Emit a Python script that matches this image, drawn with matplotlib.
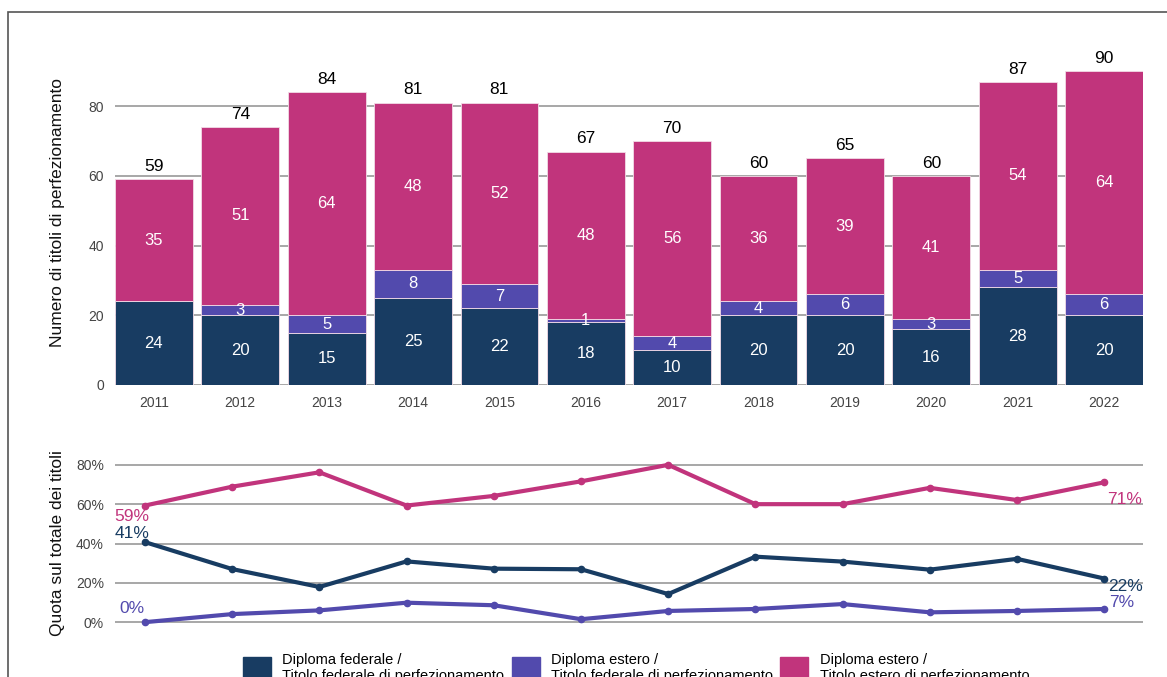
import matplotlib.pyplot as plt
import matplotlib.patches as mpatches
import numpy as np

plt.rcParams['font.family'] = ['Liberation Sans', 'DejaVu Sans']

years = ['2011', '2012', '2013', '2014', '2015', '2016',
         '2017', '2018', '2019', '2020', '2021', '2022']
fed_fed = [24, 20, 15, 25, 22, 18, 10, 20, 20, 16, 28, 20]
est_fed = [0, 3, 5, 8, 7, 1, 4, 4, 6, 3, 5, 6]
est_est = [35, 51, 64, 48, 52, 48, 56, 36, 39, 41, 54, 64]
totals = [59, 74, 84, 81, 81, 67, 70, 60, 65, 60, 87, 90]

# shares of total
share_fed_fed = [0.407, 0.270, 0.179, 0.309, 0.272, 0.269, 0.143, 0.333, 0.308, 0.267, 0.322, 0.222]
share_est_fed = [0.0, 0.041, 0.060, 0.099, 0.086, 0.015, 0.057, 0.067, 0.092, 0.050, 0.057, 0.067]
share_est_est = [0.593, 0.689, 0.762, 0.593, 0.642, 0.716, 0.800, 0.600, 0.600, 0.683, 0.621, 0.711]

labels = ['Diploma federale /\nTitolo federale di perfezionamento',
          'Diploma estero /\nTitolo federale di perfezionamento',
          'Diploma estero /\nTitolo estero di perfezionamento']
c_navy = '#183c62'
c_purple = '#524aad'
c_pink = '#c1347c'
grid_c = '#a0a0a0'
tick_c = '#444444'

W, H = 1167, 677
fig = plt.figure(figsize=(W / 100, H / 100), dpi=100)

# outer frame
fig.add_artist(mpatches.Rectangle((8 / W, -0.1), 1.2, (H - 12) / H + 0.1,
                                  transform=fig.transFigure, fill=False,
                                  edgecolor='#555555', lw=1.2))

# --- top: stacked bars ---
ax = fig.add_axes([115 / W, (H - 385) / H, 1028 / W, 345 / H])
x = np.arange(len(years))
b1 = ax.bar(x, fed_fed, 0.9, color=c_navy, edgecolor='#f2dbe6', lw=0.6, zorder=2)
b2 = ax.bar(x, est_fed, 0.9, bottom=fed_fed, color=c_purple,
            edgecolor='#f2dbe6', lw=0.6, zorder=2)
bottom2 = np.array(fed_fed) + np.array(est_fed)
b3 = ax.bar(x, est_est, 0.9, bottom=bottom2, color=c_pink,
            edgecolor='#f2dbe6', lw=0.6, zorder=2)

for bars, vals in [(b1, fed_fed), (b2, est_fed), (b3, est_est)]:
    for rect, v in zip(bars, vals):
        if v == 0:
            continue
        ax.text(rect.get_x() + rect.get_width() / 2, rect.get_y() + rect.get_height() / 2,
                str(v), ha='center', va='center', color='white', fontsize=12)
for xi, t in zip(x, totals):
    ax.text(xi, t + 1.5, str(t), ha='center', va='bottom', color='black', fontsize=12.5)

ax.set_xlim(-0.45, 11.45)
ax.set_ylim(0, 99)
ax.set_yticks([0, 20, 40, 60, 80])
ax.set_xticks(x)
ax.set_xticklabels(years)
ax.grid(axis='y', color=grid_c, lw=1.3, zorder=0)
ax.tick_params(length=0, labelsize=10, labelcolor=tick_c, pad=8)
for s in ax.spines.values():
    s.set_visible(False)
ax.set_ylabel('Numero di titoli di perfezionamento', fontsize=12.5, color='#111111', labelpad=17)

# --- bottom: shares ---
ax2 = fig.add_axes([115 / W, (H - 632) / H, 1028 / W, 177 / H])
ax2.plot(x, share_est_est, color=c_pink, lw=3, marker='o', ms=4.5, zorder=3)
ax2.plot(x, share_fed_fed, color=c_navy, lw=3, marker='o', ms=4.5, zorder=3)
ax2.plot(x, share_est_fed, color=c_purple, lw=3, marker='o', ms=4.5, zorder=3)
ax2.set_xlim(-0.344, 11.445)
ax2.set_ylim(-0.05, 0.85)
ax2.set_yticks([0, 0.2, 0.4, 0.6, 0.8])
ax2.set_yticklabels(['0%', '20%', '40%', '60%', '80%'])
ax2.set_xticks([])
ax2.grid(axis='y', color=grid_c, lw=1.3, zorder=0)
ax2.tick_params(length=0, labelsize=10, labelcolor=tick_c, pad=8)
for s in ax2.spines.values():
    s.set_visible(False)
ax2.set_ylabel('Quota sul totale dei titoli', fontsize=12.5, color='#111111', labelpad=8)

fs = 12.5
end_labels = [
    (0, share_est_est, c_pink, (-9.5, -8)),
    (0, share_fed_fed, c_navy, (-9.5, 6.5)),
    (0, share_est_fed, c_purple, (-9.5, 10)),
    (11, share_est_est, c_pink, (15, -12)),
    (11, share_fed_fed, c_navy, (15, -6)),
    (11, share_est_fed, c_purple, (12.5, 4.5)),
]
for i, series, col, off in end_labels:
    ax2.annotate(f'{series[i]:.0%}', (i, series[i]), xytext=off, textcoords='offset points',
                 ha='center', va='center', color=col, fontsize=fs)

# legend (cut off at bottom as in original)
handles = [mpatches.Patch(color=c) for c in (c_navy, c_purple, c_pink)]
fig.legend(handles, labels, ncol=3, loc='upper left', bbox_to_anchor=(230 / W, (H - 640) / H),
           frameon=False, fontsize=10.5, handlelength=1.9, handleheight=2.1,
           columnspacing=0.5, handletextpad=0.8)

fig.savefig('out.png', dpi=100)
